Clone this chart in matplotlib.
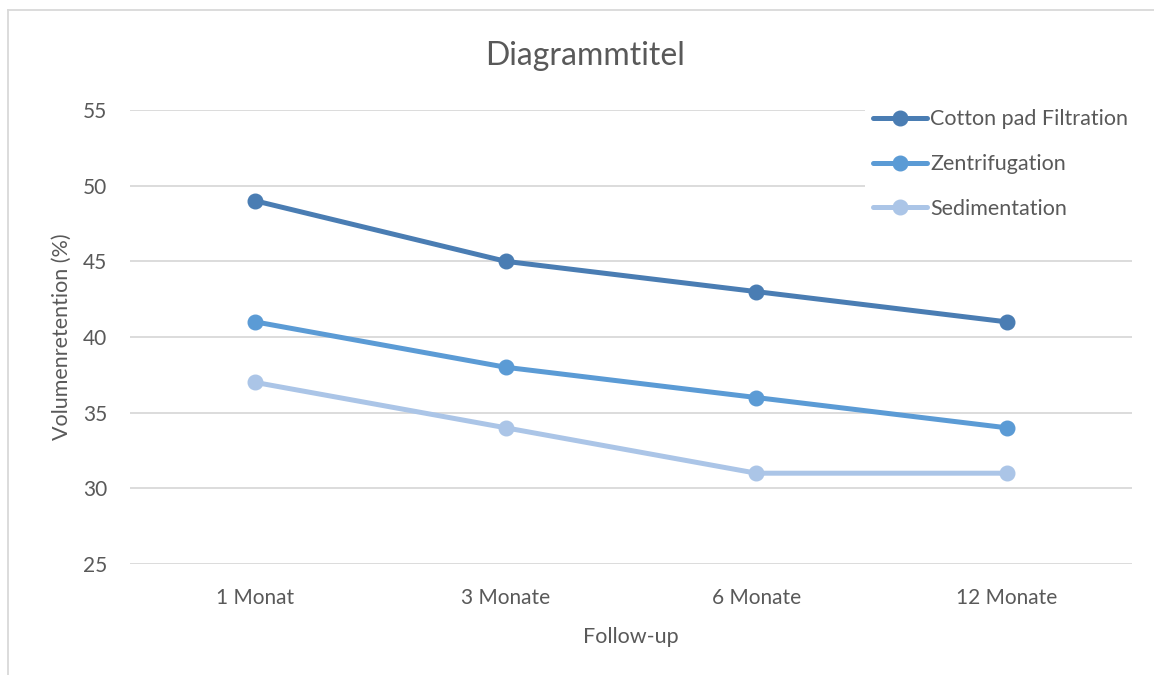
import matplotlib
matplotlib.use('Agg')
import matplotlib.pyplot as plt
from matplotlib.lines import Line2D

# Daten
categories = ['1 Monat', '3 Monate', '6 Monate', '12 Monate']
series_names = ['Cotton pad Filtration', 'Zentrifugation', 'Sedimentation']
cotton = [49, 45, 43, 41]
zentri = [41, 38, 36, 34]
sedi = [37, 34, 31, 31]
colors = ['#4A7DB3', '#5B9BD5', '#ABC5E7']
yticks = [25, 30, 35, 40, 45, 50, 55]

plt.rcParams['font.family'] = ['Lato', 'DejaVu Sans']
text_color = '#595959'

W, H = 1154, 675
fig = plt.figure(figsize=(W / 100, H / 100), dpi=100)
ax = fig.add_axes([130 / W, 1 - 564 / H, (1132 - 130) / W, (564 - 110) / H])

x = list(range(len(categories)))
for vals, name, c in zip([cotton, zentri, sedi], series_names, colors):
    ax.plot(x, vals, color=c, lw=3.6, marker='o', ms=10.5, label=name,
            solid_capstyle='round', zorder=3)

ax.set_xlim(-0.5, len(categories) - 0.5)
ax.set_ylim(25, 55)
ax.set_yticks(yticks)
ax.set_xticks(x)
ax.set_xticklabels(categories)
ax.grid(axis='y', color='#D9D9D9', lw=1.3)
ax.set_axisbelow(True)
for s in ax.spines.values():
    s.set_visible(False)
ax.tick_params(length=0, colors=text_color, labelsize=15)
ax.tick_params(axis='y', pad=16.5)
ax.tick_params(axis='x', pad=17)

ax.set_xlabel('Follow-up', fontsize=15.5, color=text_color, labelpad=14)
ax.set_ylabel('Volumenretention (%)', fontsize=15.5, color=text_color, labelpad=8)
fig.text(585 / W, 1 - 56 / H, 'Diagrammtitel', ha='center', va='center',
         fontsize=23, color=text_color)

leg = ax.legend(loc='upper left', bbox_to_anchor=(854 / W, 1 - 90 / H),
                bbox_transform=fig.transFigure, frameon=True, fancybox=False,
                edgecolor='none', facecolor='white', framealpha=1,
                fontsize=15.5, handlelength=2.5, handletextpad=0.15,
                labelspacing=1.15, borderpad=0.4)
for t in leg.get_texts():
    t.set_color(text_color)

# Rahmen des Diagrammbereichs
fig.add_artist(Line2D([8 / W, 8 / W], [0, 1 - 10 / H], transform=fig.transFigure,
                      color='#D9D9D9', lw=1.3))
fig.add_artist(Line2D([8 / W, 1], [1 - 10 / H, 1 - 10 / H], transform=fig.transFigure,
                      color='#D9D9D9', lw=1.3))

fig.savefig('out.png', dpi=100)
